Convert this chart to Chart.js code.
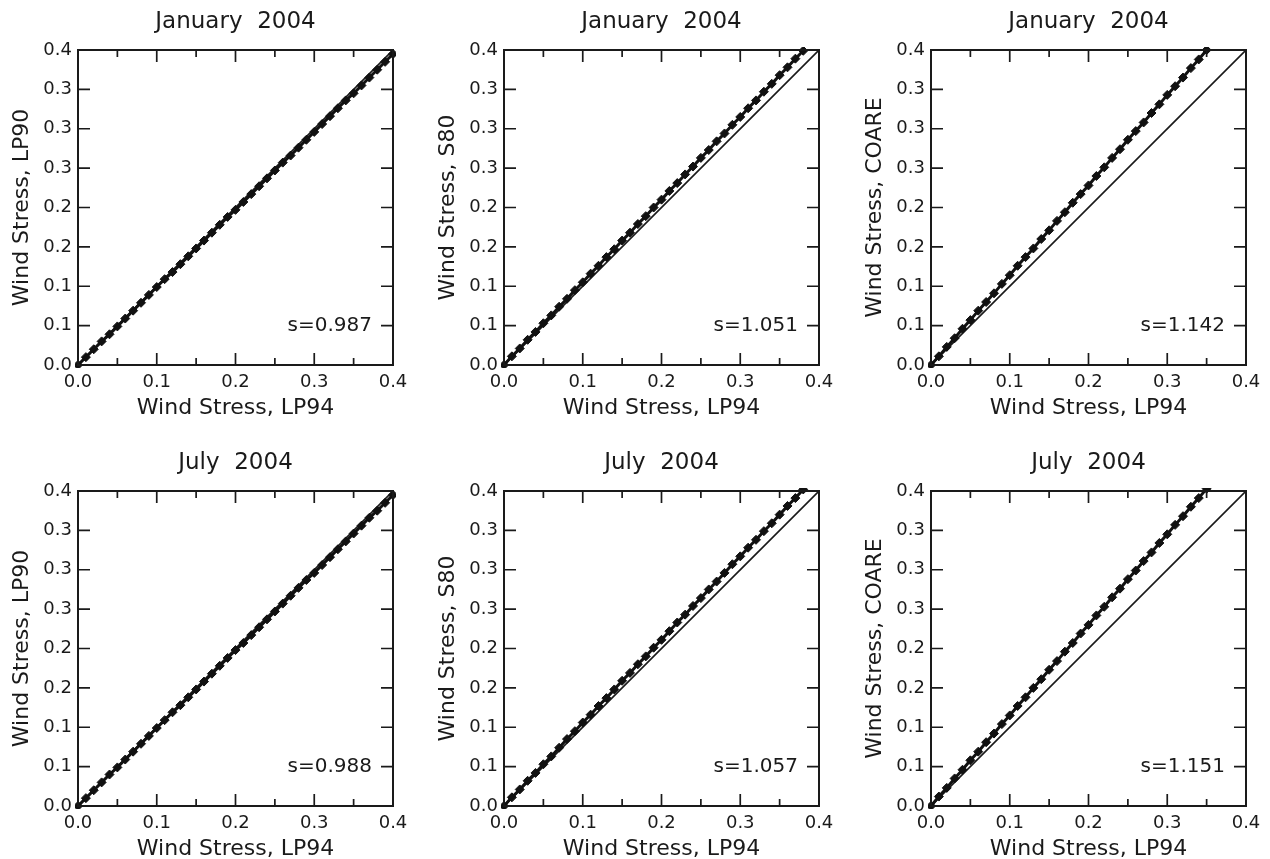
<!DOCTYPE html>
<html>
<head>
<meta charset="utf-8">
<title>Wind stress comparison</title>
<script src="https://cdn.jsdelivr.net/npm/chart.js@4.4.1/dist/chart.umd.min.js"></script>
<style>
  html, body { margin: 0; padding: 0; background: #fff; overflow: hidden; }
  #wrap { position: relative; width: 1270px; height: 859px; overflow: hidden; background: #fff; }
  .panel { position: absolute; }
</style>
</head>
<body>
<div id="wrap"></div>
<script>
// LP94 wind stress of the binned points (x axis)
const xVals = [0.00, 0.01, 0.02, 0.03, 0.04, 0.05, 0.06, 0.07, 0.08, 0.09,
  0.10, 0.11, 0.12, 0.13, 0.14, 0.15, 0.16, 0.17, 0.18, 0.19,
  0.20, 0.21, 0.22, 0.23, 0.24, 0.25, 0.26, 0.27, 0.28, 0.29,
  0.30, 0.31, 0.32, 0.33, 0.34, 0.35, 0.36, 0.37, 0.38, 0.39, 0.40];

// wind stress from the other bulk formulas, same bins
const janLP90 = [0, 0.010, 0.020, 0.030, 0.039, 0.049, 0.059, 0.069, 0.079, 0.089,
  0.099, 0.109, 0.118, 0.128, 0.138, 0.148, 0.158, 0.168, 0.178, 0.188,
  0.197, 0.207, 0.217, 0.227, 0.237, 0.247, 0.257, 0.266, 0.276, 0.286,
  0.296, 0.306, 0.316, 0.326, 0.336, 0.345, 0.355, 0.365, 0.375, 0.385, 0.395];
const janS80 = [0, 0.011, 0.021, 0.032, 0.042, 0.053, 0.063, 0.074, 0.084, 0.095,
  0.105, 0.116, 0.126, 0.137, 0.147, 0.158, 0.168, 0.179, 0.189, 0.200,
  0.210, 0.221, 0.231, 0.242, 0.252, 0.263, 0.273, 0.284, 0.294, 0.305,
  0.315, 0.326, 0.336, 0.347, 0.357, 0.368, 0.378, 0.389, 0.399];
const janCOARE = [0, 0.011, 0.023, 0.034, 0.046, 0.057, 0.069, 0.080, 0.091, 0.103,
  0.114, 0.126, 0.137, 0.148, 0.160, 0.171, 0.183, 0.194, 0.206, 0.217,
  0.228, 0.240, 0.251, 0.263, 0.274, 0.286, 0.297, 0.308, 0.320, 0.331,
  0.343, 0.354, 0.365, 0.377, 0.388, 0.400];
const julLP90 = [0, 0.010, 0.020, 0.030, 0.040, 0.049, 0.059, 0.069, 0.079, 0.089,
  0.099, 0.109, 0.119, 0.128, 0.138, 0.148, 0.158, 0.168, 0.178, 0.188,
  0.198, 0.207, 0.217, 0.227, 0.237, 0.247, 0.257, 0.267, 0.277, 0.287,
  0.296, 0.306, 0.316, 0.326, 0.336, 0.346, 0.356, 0.366, 0.375, 0.385, 0.395];
const julS80 = [0, 0.011, 0.021, 0.032, 0.042, 0.053, 0.063, 0.074, 0.085, 0.095,
  0.106, 0.116, 0.127, 0.137, 0.148, 0.159, 0.169, 0.180, 0.190, 0.201,
  0.211, 0.222, 0.233, 0.243, 0.254, 0.264, 0.275, 0.285, 0.296, 0.307,
  0.317, 0.328, 0.338, 0.349, 0.359, 0.370, 0.381, 0.391, 0.402];
const julCOARE = [0, 0.012, 0.023, 0.035, 0.046, 0.058, 0.069, 0.081, 0.092, 0.104,
  0.115, 0.127, 0.138, 0.150, 0.161, 0.173, 0.184, 0.196, 0.207, 0.219,
  0.230, 0.242, 0.253, 0.265, 0.276, 0.288, 0.299, 0.311, 0.322, 0.334,
  0.345, 0.357, 0.368, 0.380, 0.391, 0.403];

// 1:1 reference line
const diagX = [0, 0.4];
const diagY = [0, 0.4];

const titles = ["January  2004", "January  2004", "January  2004",
  "July  2004", "July  2004", "July  2004"];
const yNames = ["LP90", "S80", "COARE", "LP90", "S80", "COARE"];
const slopeLabels = ["s=0.987", "s=1.051", "s=1.142", "s=0.988", "s=1.057", "s=1.151"];
const series = [janLP90, janS80, janCOARE, julLP90, julS80, julCOARE];

const xTickValues = [0, 0.05, 0.1, 0.15, 0.2, 0.25, 0.3, 0.35, 0.4];
const xTickLabels = ["0.0", "", "0.1", "", "0.2", "", "0.3", "", "0.4"];
const yTickValues = [0, 0.05, 0.1, 0.15, 0.2, 0.25, 0.3, 0.35, 0.4];
const yTickLabels = ["0.0", "0.1", "0.1", "0.2", "0.2", "0.3", "0.3", "0.3", "0.4"];

const INK = "#1a1a1a";
const FONT = "'DejaVu Sans', 'Liberation Sans', sans-serif";
const colLeft = [0, 426, 853];
const rowTop = [0, 441];

// box, inward ticks and the slope note
const frameTicks = {
  id: "frameTicks",
  afterDatasetsDraw(chart, args, opts) {
    const { ctx, chartArea: a, scales: { x, y } } = chart;
    ctx.save();
    ctx.strokeStyle = INK;
    ctx.lineWidth = 1.7;
    ctx.beginPath();
    x.ticks.forEach(t => {
      const px = x.getPixelForValue(t.value);
      const len = Math.round(t.value * 100) % 10 === 0 ? 12 : 7;
      ctx.moveTo(px, a.bottom); ctx.lineTo(px, a.bottom - len);
      ctx.moveTo(px, a.top); ctx.lineTo(px, a.top + len);
    });
    y.ticks.forEach(t => {
      const py = y.getPixelForValue(t.value);
      ctx.moveTo(a.left, py); ctx.lineTo(a.left + 12, py);
      ctx.moveTo(a.right, py); ctx.lineTo(a.right - 12, py);
    });
    ctx.stroke();
    ctx.lineWidth = 2;
    ctx.strokeRect(a.left, a.top, a.right - a.left, a.bottom - a.top);
    ctx.font = "20px " + FONT;
    ctx.fillStyle = INK;
    ctx.textAlign = "right";
    ctx.textBaseline = "middle";
    ctx.fillText(opts.text, a.right - 21, y.getPixelForValue(0.05));
    ctx.restore();
  }
};

const wrap = document.getElementById("wrap");

for (let i = 0; i < 6; i++) {
  const div = document.createElement("div");
  div.className = "panel";
  div.style.left = colLeft[i % 3] + "px";
  div.style.top = rowTop[Math.floor(i / 3)] + "px";
  const canvas = document.createElement("canvas");
  canvas.width = 420;
  canvas.height = 425;
  div.appendChild(canvas);
  wrap.appendChild(div);

  const ys = series[i];
  const pts = ys.map((v, k) => ({ x: xVals[k], y: v }));
  const diag = diagX.map((v, k) => ({ x: v, y: diagY[k] }));

  new Chart(canvas.getContext("2d"), {
    type: "scatter",
    data: {
      datasets: [
        {
          data: diag,
          showLine: true,
          borderColor: INK,
          borderWidth: 1.6,
          pointRadius: 0,
          order: 2
        },
        {
          data: pts,
          showLine: true,
          borderColor: "#111",
          borderWidth: 3,
          pointStyle: "rectRot",
          pointRadius: 4.5,
          pointBackgroundColor: "#111",
          pointBorderColor: "#111",
          pointBorderWidth: 1,
          clip: 3,
          order: 1
        }
      ]
    },
    options: {
      responsive: false,
      animation: false,
      devicePixelRatio: 1,
      layout: { padding: { left: 9, right: 27, top: 0, bottom: 4 } },
      plugins: {
        legend: { display: false },
        tooltip: { enabled: false },
        title: {
          display: true,
          fullSize: false,
          text: titles[i],
          color: INK,
          font: { family: FONT, size: 23, weight: "normal" },
          padding: { top: 8, bottom: 14.4 }
        },
        frameTicks: { text: slopeLabels[i] }
      },
      scales: {
        x: {
          type: "linear",
          min: 0,
          max: 0.4,
          grid: { display: false, drawTicks: false },
          border: { display: false },
          afterBuildTicks: s => { s.ticks = xTickValues.map(v => ({ value: v })); },
          afterFit: s => { s.height = 56; },
          ticks: {
            autoSkip: false,
            maxRotation: 0,
            padding: 7,
            color: INK,
            font: { family: FONT, size: 18 },
            callback: (v, k) => xTickLabels[k]
          },
          title: {
            display: true,
            text: "Wind Stress, LP94",
            color: INK,
            padding: 0,
            font: { family: FONT, size: 22 }
          }
        },
        y: {
          type: "linear",
          min: 0,
          max: 0.4,
          grid: { display: false, drawTicks: false },
          border: { display: false },
          afterBuildTicks: s => { s.ticks = yTickValues.map(v => ({ value: v })); },
          afterFit: s => { s.width = 69; },
          ticks: {
            autoSkip: false,
            padding: 6,
            color: INK,
            font: { family: FONT, size: 18 },
            callback: (v, k) => yTickLabels[k]
          },
          title: {
            display: true,
            text: "Wind Stress, " + yNames[i],
            color: INK,
            padding: 0,
            font: { family: FONT, size: 22 }
          }
        }
      }
    },
    plugins: [frameTicks]
  });
}
</script>
</body>
</html>
